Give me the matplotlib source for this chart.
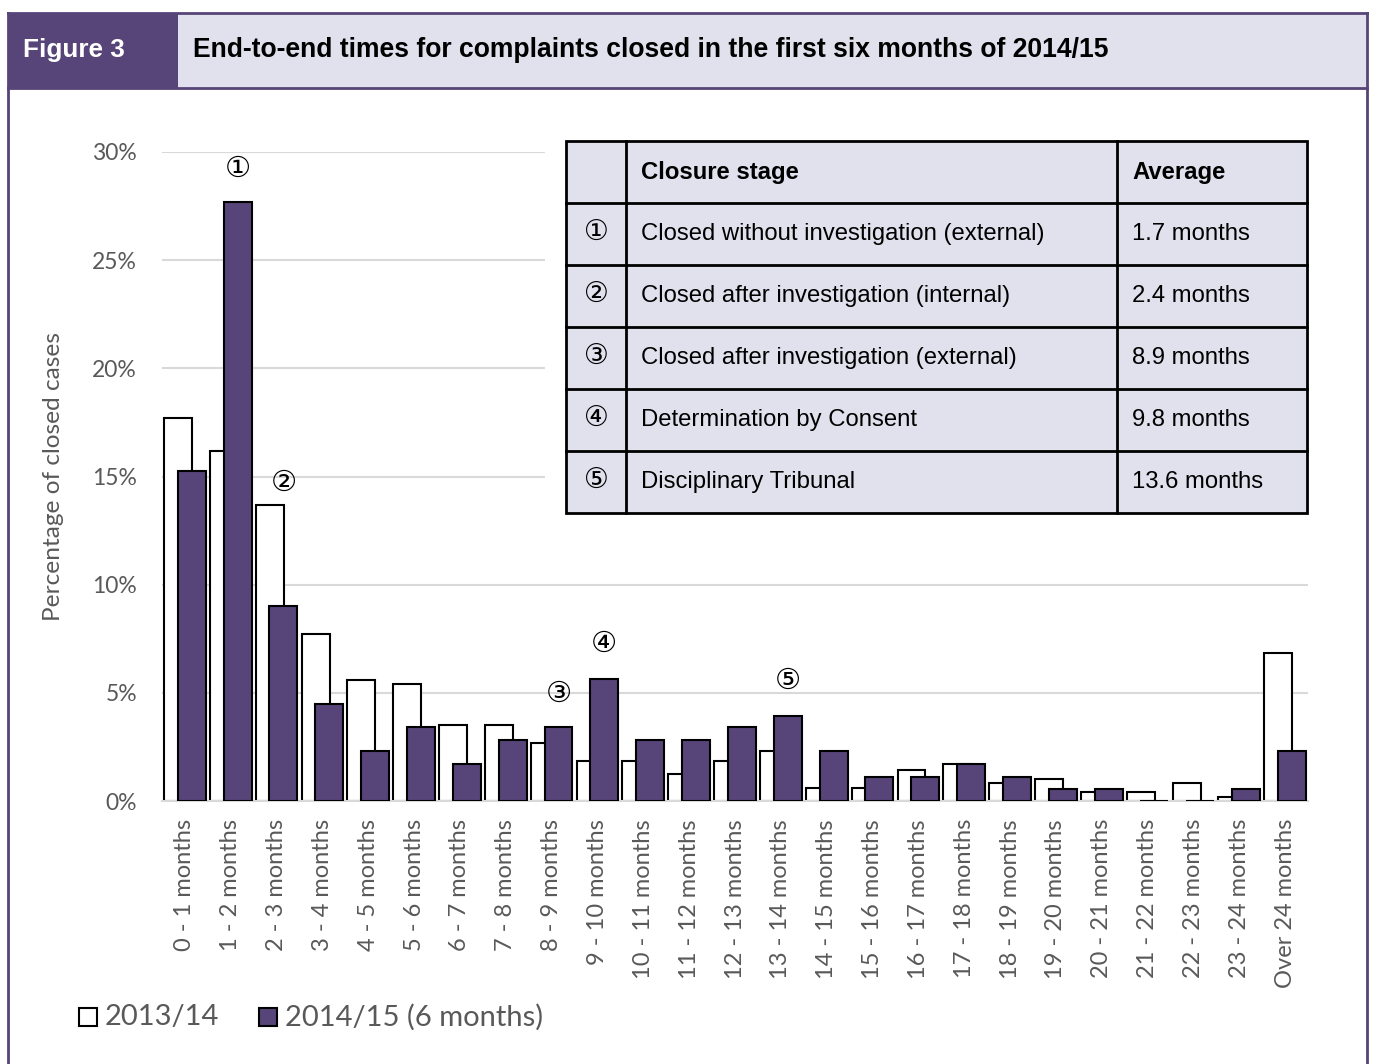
import matplotlib.pyplot as plt
from matplotlib.patches import Rectangle

# End-to-end times, share of closed cases (%)
categories = ["0 - 1 months", "1 - 2 months", "2 - 3 months", "3 - 4 months",
              "4 - 5 months", "5 - 6 months", "6 - 7 months", "7 - 8 months",
              "8 - 9 months", "9 - 10 months", "10 - 11 months", "11 - 12 months",
              "12 - 13 months", "13 - 14 months", "14 - 15 months", "15 - 16 months",
              "16 - 17 months", "17 - 18 months", "18 - 19 months", "19 - 20 months",
              "20 - 21 months", "21 - 22 months", "22 - 23 months", "23 - 24 months",
              "Over 24 months"]
y_2013 = [17.7, 16.2, 13.7, 7.7, 5.6, 5.4, 3.5, 3.5, 2.7, 1.85, 1.85, 1.25, 1.85,
          2.3, 0.6, 0.6, 1.45, 1.7, 0.85, 1.0, 0.4, 0.4, 0.85, 0.2, 6.85]
y_2014 = [15.25, 27.7, 9.0, 4.5, 2.3, 3.4, 1.7, 2.8, 3.4, 5.65, 2.8, 2.8, 3.4,
          3.95, 2.3, 1.1, 1.1, 1.7, 1.1, 0.55, 0.55, 0.0, 0.0, 0.55, 2.3]
series = ["2013/14", "2014/15 (6 months)"]

# circled markers: (category index, height in %)
marks = ["①", "②", "③", "④", "⑤"]
mark_idx = [1, 2, 8, 9, 13]
mark_y = [29.2, 14.7, 4.95, 7.25, 5.55]

stages = ["Closed without investigation (external)",
          "Closed after investigation (internal)",
          "Closed after investigation (external)",
          "Determination by Consent",
          "Disciplinary Tribunal"]
averages = ["1.7 months", "2.4 months", "8.9 months", "9.8 months", "13.6 months"]

PURPLE = "#574479"
LAVENDER = "#e1e1ee"
GREY = "#595959"
W, H = 1373, 1064

fig = plt.figure(figsize=(W / 100, H / 100), dpi=100)


def fx(px):
    return px / W


def fy(py):
    return 1 - py / H


# frame and header band
fig.add_artist(plt.Line2D([fx(8), fx(8)], [fy(13), 0], color=PURPLE, lw=2))
fig.add_artist(plt.Line2D([fx(1367), fx(1367)], [fy(13), 0], color=PURPLE, lw=2))
fig.add_artist(Rectangle((fx(178), fy(88)), fx(1367 - 178), (88 - 13) / H,
                         facecolor=LAVENDER, edgecolor="none"))
fig.add_artist(Rectangle((fx(8), fy(88)), fx(178 - 8), (88 - 13) / H,
                         facecolor=PURPLE, edgecolor="none"))
fig.add_artist(plt.Line2D([fx(8), fx(1367)], [fy(13), fy(13)], color=PURPLE, lw=2))
fig.add_artist(plt.Line2D([fx(8), fx(1367)], [fy(88), fy(88)], color=PURPLE, lw=2))
fig.text(fx(23), fy(50), "Figure 3", color="white", fontsize=18.8, fontweight="bold",
         family="Liberation Sans", va="center")
fig.text(fx(193), fy(50),
         "End-to-end times for complaints closed in the first six months of 2014/15",
         color="black", fontsize=19.1, fontweight="bold", family="Liberation Sans",
         va="center")

# bar chart
ax = fig.add_axes([fx(162), fy(801), fx(1308 - 162), (801 - 152) / H])
x = list(range(len(categories)))
bw = 0.61
ax.bar([i - 0.15 for i in x], y_2013, width=bw, color="white", edgecolor="black",
       linewidth=1.5, zorder=2)
ax.bar([i + 0.15 for i in x], y_2014, width=bw, color=PURPLE, edgecolor="black",
       linewidth=1.5, zorder=3)
for m, i, yv in zip(marks, mark_idx, mark_y):
    ax.text(i + 0.15, yv, m, ha="center", va="center", fontsize=21,
            family="DejaVu Sans", zorder=4)

ax.set_xlim(-0.5, len(categories) - 0.5)
ax.set_ylim(0, 30)
ax.set_yticks([0, 5, 10, 15, 20, 25, 30])
ax.set_yticklabels([f"{v}%" for v in [0, 5, 10, 15, 20, 25, 30]],
                   fontsize=16.5, color=GREY, family="Lato")
ax.set_xticks(x)
ax.set_xticklabels(categories, rotation=90, fontsize=17, color=GREY, family="Lato")
ax.tick_params(axis="x", length=0, pad=13)
ax.tick_params(axis="y", length=0, pad=18)
ax.grid(axis="y", color="#d9d9d9", linewidth=1.5, zorder=0)
ax.set_axisbelow(True)
for s in ["top", "right", "left"]:
    ax.spines[s].set_visible(False)
ax.spines["bottom"].set_color("#d9d9d9")
ax.spines["bottom"].set_linewidth(1.5)
fig.text(fx(54), fy(477), "Percentage of closed cases", rotation=90, ha="center",
         va="center", fontsize=17.6, color=GREY, family="Lato")

# table of averages, on a white panel over the gridlines
tx0, tx1, ty0, ty1 = 545, 1312, 138, 516
tab = fig.add_axes([fx(tx0), fy(ty1), fx(tx1 - tx0), (ty1 - ty0) / H])
tab.set_xlim(tx0, tx1)
tab.set_ylim(ty1, ty0)
tab.axis("off")
tab.add_patch(Rectangle((tx0, ty0), tx1 - tx0, ty1 - ty0, facecolor="white",
                        edgecolor="none", zorder=0))
left, c1, c2, right = 566, 626, 1117, 1307
rows = [141, 203, 265, 327, 389, 451, 513]
tab.add_patch(Rectangle((left, rows[0]), right - left, rows[-1] - rows[0],
                        facecolor=LAVENDER, edgecolor="black", linewidth=2, zorder=1))
for r in rows[1:-1]:
    tab.plot([left, right], [r, r], color="black", lw=2, zorder=2)
for c in [c1, c2]:
    tab.plot([c, c], [rows[0], rows[-1]], color="black", lw=2, zorder=2)

tab.text(c1 + 15, (rows[0] + rows[1]) / 2, "Closure stage", fontsize=17.2,
         fontweight="bold", family="Liberation Sans", va="center")
tab.text(c2 + 15, (rows[0] + rows[1]) / 2, "Average", fontsize=17.2,
         fontweight="bold", family="Liberation Sans", va="center")
for k in range(5):
    yc = (rows[k + 1] + rows[k + 2]) / 2
    tab.text((left + c1) / 2, yc - 2, marks[k], fontsize=20, family="DejaVu Sans",
             ha="center", va="center")
    tab.text(c1 + 15, yc, stages[k], fontsize=17.2, family="Liberation Sans",
             va="center")
    tab.text(c2 + 15, yc, averages[k], fontsize=17.2, family="Liberation Sans",
             va="center")

# legend below the axis labels
for sx, col, lab in zip([79, 259], ["white", PURPLE], series):
    fig.add_artist(Rectangle((fx(sx), fy(1026)), fx(18), 18 / H, facecolor=col,
                             edgecolor="black", linewidth=1.5))
    fig.text(fx(sx + 26), fy(1017), lab, fontsize=21, color=GREY, family="Lato",
             va="center")

fig.savefig("out.png", dpi=100)
